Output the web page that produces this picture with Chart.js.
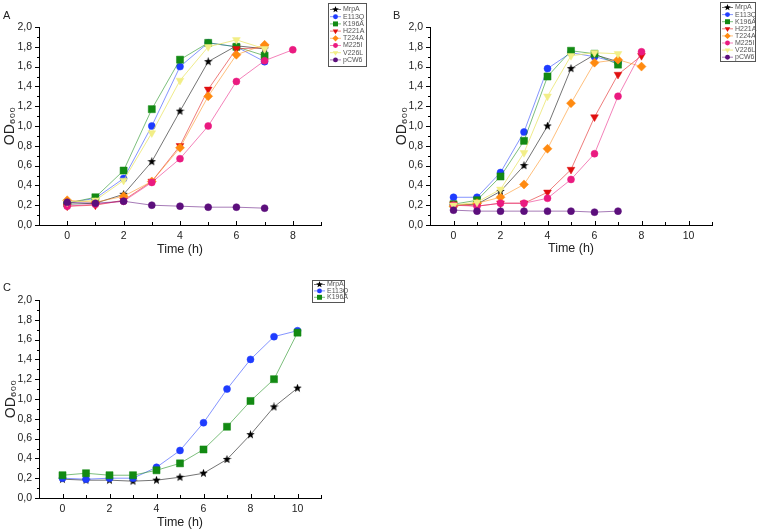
<!DOCTYPE html>
<html>
<head>
<meta charset="utf-8">
<script src="https://cdn.jsdelivr.net/npm/chart.js@4.4.0/dist/chart.umd.min.js"></script>
<style>
  body { margin: 0; width: 759px; height: 531px; background: #fff; position: relative; overflow: hidden; font-family: "Liberation Sans", Arial, sans-serif; }
  .panel { position: absolute; }
  .tag { position: absolute; font-size: 11px; color: #222; }
</style>
</head>
<body>
<div class="panel" style="left:0;top:0"><canvas id="chartA" width="380" height="265"></canvas></div>
<div class="panel" style="left:380px;top:0"><canvas id="chartB" width="379" height="265"></canvas></div>
<div class="panel" style="left:0;top:265px"><canvas id="chartC" width="380" height="266"></canvas></div>
<div class="tag" style="left:3px;top:9px">A</div>
<div class="tag" style="left:393px;top:9px">B</div>
<div class="tag" style="left:3px;top:281px">C</div>

<script>
// strains and how they look
var strains = ["MrpA", "E113Q", "K196A", "H221A", "T224A", "M225I", "V226L", "pCW6"];
var colors = ["#000000", "#1f3cff", "#138a13", "#e01010", "#ff8a10", "#ea1a80", "#f2ee86", "#5c0f7c"];
var lineColors = ["rgba(0,0,0,0.55)", "rgba(31,60,255,0.55)", "rgba(19,138,19,0.55)", "rgba(224,16,16,0.55)",
  "rgba(255,138,16,0.55)", "rgba(234,26,128,0.55)", "rgba(235,230,110,0.8)", "rgba(92,15,124,0.55)"];

// time points (h)
var hoursA = [0, 1, 2, 3, 4, 5, 6, 7, 8];
var hoursB = [0, 1, 2, 3, 4, 5, 6, 7, 8];
var hoursC = [0, 1, 2, 3, 4, 5, 6, 7, 8, 9, 10];

// panel A, OD600
var odA = [
  [0.21, 0.22, 0.31, 0.64, 1.15, 1.65, 1.81, 1.78],        // MrpA
  [0.22, 0.27, 0.47, 1.00, 1.60, 1.84, 1.80, 1.65],        // E113Q
  [0.22, 0.28, 0.55, 1.17, 1.67, 1.84, 1.80, 1.71],        // K196A
  [0.19, 0.20, 0.25, 0.44, 0.80, 1.37, 1.78, 1.79],        // H221A
  [0.25, 0.23, 0.29, 0.44, 0.78, 1.30, 1.72, 1.82],        // T224A
  [0.19, 0.21, 0.24, 0.43, 0.67, 1.00, 1.45, 1.66, 1.77],  // M225I
  [0.23, 0.25, 0.45, 0.93, 1.46, 1.80, 1.87, 1.78],        // V226L
  [0.23, 0.22, 0.24, 0.20, 0.19, 0.18, 0.18, 0.17]         // pCW6
];

// panel B, OD600
var odB = [
  [0.20, 0.21, 0.34, 0.60, 1.00, 1.58, 1.72, 1.65],
  [0.28, 0.28, 0.53, 0.94, 1.58, 1.74, 1.70, 1.64],
  [0.21, 0.25, 0.49, 0.85, 1.50, 1.76, 1.73, 1.62],
  [0.21, 0.19, 0.22, 0.22, 0.33, 0.56, 1.09, 1.52, 1.71],
  [0.19, 0.22, 0.28, 0.41, 0.77, 1.23, 1.64, 1.67, 1.60],
  [0.20, 0.19, 0.22, 0.22, 0.27, 0.46, 0.72, 1.30, 1.75],
  [0.20, 0.23, 0.36, 0.73, 1.30, 1.71, 1.74, 1.73],
  [0.15, 0.14, 0.14, 0.14, 0.14, 0.14, 0.13, 0.14]
];

// panel C, OD600 (first three strains only)
var odC = [
  [0.19, 0.18, 0.18, 0.17, 0.18, 0.21, 0.25, 0.39, 0.64, 0.92, 1.11],
  [0.20, 0.19, 0.20, 0.20, 0.31, 0.48, 0.76, 1.10, 1.40, 1.63, 1.69],
  [0.23, 0.25, 0.23, 0.23, 0.28, 0.35, 0.49, 0.72, 0.98, 1.20, 1.67]
];

var yTickLabels = ["0,0", "0,2", "0,4", "0,6", "0,8", "1,0", "1,2", "1,4", "1,6", "1,8", "2,0"];

Chart.defaults.font.family = '"Liberation Sans", Arial, sans-serif';

function starImage(size) {
  var c = document.createElement("canvas");
  c.width = size; c.height = size;
  var g = c.getContext("2d");
  var r = size / 2, ri = r * 0.42;
  g.beginPath();
  for (var i = 0; i < 10; i++) {
    var a = -Math.PI / 2 + i * Math.PI / 5;
    var rr = i % 2 === 0 ? r : ri;
    g.lineTo(r + rr * Math.cos(a), r + rr * Math.sin(a));
  }
  g.closePath();
  g.fillStyle = "#000";
  g.fill();
  return c;
}
var star = starImage(9);
var starSmall = starImage(7);

var markers = [
  { style: star, small: starSmall, r: 4.5, rot: 0 },
  { style: "circle", r: 3.5, rot: 0 },
  { style: "rect", r: 5, rot: 0 },
  { style: "triangle", r: 4.5, rot: 180 },
  { style: "rectRot", r: 4.5, rot: 0 },
  { style: "circle", r: 3.5, rot: 0 },
  { style: "triangle", r: 4.5, rot: 180 },
  { style: "circle", r: 3.5, rot: 0 }
];

function makeDatasets(hours, rows) {
  return rows.map(function (vals, i) {
    return {
      label: strains[i],
      data: vals.map(function (v, k) { return { x: hours[k], y: v }; }),
      borderColor: lineColors[i],
      backgroundColor: colors[i],
      pointBorderColor: colors[i],
      borderWidth: 1,
      pointStyle: markers[i].style,
      pointRotation: markers[i].rot,
      pointRadius: markers[i].r,
      pointBorderWidth: 0.5,
      order: -i
    };
  });
}

// little legend box drawn inside the canvas
var legendBox = {
  id: "legendBox",
  afterDraw: function (chart, args, o) {
    var ctx = chart.ctx;
    ctx.save();
    ctx.strokeStyle = "#555";
    ctx.lineWidth = 1;
    ctx.strokeRect(o.x + 0.5, o.y + 0.5, o.w, o.h);
    ctx.font = '7px "Liberation Sans", Arial, sans-serif';
    ctx.textBaseline = "middle";
    chart.data.datasets.forEach(function (ds, i) {
      var cy = o.first + i * o.step;
      ctx.strokeStyle = ds.borderColor;
      ctx.fillStyle = ds.backgroundColor;
      ctx.beginPath();
      ctx.moveTo(o.x + 2, cy);
      ctx.lineTo(o.x + 13, cy);
      ctx.stroke();
      var m = markers[i];
      Chart.helpers.drawPoint(ctx, {
        pointStyle: m.small || m.style,
        rotation: m.rot,
        radius: m.r * 0.7,
        borderWidth: 0
      }, o.x + 7.5, cy);
      ctx.fillStyle = "#555";
      ctx.fillText(ds.label, o.x + 15, cy);
    });
    ctx.restore();
  }
};

// Origin style ticks: y out (major 0.2, minor 0.1), x in (every hour)
var axisTicks = {
  id: "axisTicks",
  afterDraw: function (chart) {
    var ctx = chart.ctx, xs = chart.scales.x, ys = chart.scales.y;
    var left = chart.chartArea.left, bottom = chart.chartArea.bottom;
    ctx.save();
    ctx.strokeStyle = "#000";
    ctx.lineWidth = 1;
    ctx.beginPath();
    for (var k = 0; k <= 20; k++) {
      var py = Math.round(ys.getPixelForValue(k / 10)) + 0.5;
      var len = k % 2 === 0 ? 4 : 2;
      ctx.moveTo(left - len, py);
      ctx.lineTo(left, py);
    }
    for (var v = xs.min; v <= xs.max; v++) {
      var px = Math.round(xs.getPixelForValue(v)) + 0.5;
      var len2 = v % 2 === 0 ? 4 : 3;
      ctx.moveTo(px, bottom);
      ctx.lineTo(px, bottom - len2);
    }
    ctx.stroke();
    ctx.restore();
  }
};

function makeOptions(xMax, lay, legend) {
  return {
    responsive: false,
    animation: false,
    layout: { padding: { left: 0, top: lay.top, right: lay.right, bottom: 0 } },
    plugins: {
      legend: { display: false },
      tooltip: { enabled: false },
      legendBox: legend
    },
    scales: {
      x: {
        type: "linear",
        min: -1,
        max: xMax,
        afterFit: function (s) { s.height = lay.xh; },
        grid: { display: false, drawTicks: false },
        border: { display: true, color: "#000", width: 1 },
        ticks: {
          stepSize: 1,
          autoSkip: false,
          maxRotation: 0,
          padding: 5,
          color: "#222",
          font: { size: 10.5 },
          callback: function (v) { return v >= 0 && v % 2 === 0 ? String(v) : ""; }
        },
        title: { display: true, text: "Time (h)", color: "#222", font: { size: 12.5 }, padding: { top: 0, bottom: lay.xtb } }
      },
      y: {
        min: 0,
        max: 2,
        afterFit: function (s) { s.width = lay.yw; },
        grid: { display: false, drawTicks: false },
        border: { display: true, color: "#000", width: 1 },
        ticks: {
          stepSize: 0.2,
          padding: 7,
          color: "#222",
          font: { size: 10.5 },
          callback: function (v) { return yTickLabels[Math.round(v * 5)]; }
        },
        title: { display: true, text: "OD₆₀₀", color: "#222", font: { size: 14 }, padding: { top: lay.ytp, bottom: 0 } }
      }
    }
  };
}

new Chart(document.getElementById("chartA"), {
  type: "line",
  data: { datasets: makeDatasets(hoursA, odA) },
  options: makeOptions(9, { top: 27, right: 59, xh: 40, yw: 39, xtb: 8, ytp: 2 },
    { x: 328, y: 3, w: 38, h: 63, first: 9.5, step: 7.2 }),
  plugins: [axisTicks, legendBox]
});

new Chart(document.getElementById("chartB"), {
  type: "line",
  data: { datasets: makeDatasets(hoursB, odB) },
  options: makeOptions(11, { top: 27, right: 47, xh: 40, yw: 50, xtb: 9, ytp: 14 },
    { x: 340, y: 2, w: 35, h: 59, first: 7.5, step: 7.1 }),
  plugins: [axisTicks, legendBox]
});

new Chart(document.getElementById("chartC"), {
  type: "line",
  data: { datasets: makeDatasets(hoursC, odC) },
  options: makeOptions(11, { top: 35, right: 59, xh: 33, yw: 39, xtb: 1, ytp: 3 },
    { x: 312, y: 15, w: 32, h: 22, first: 19.5, step: 6.4 }),
  plugins: [axisTicks, legendBox]
});
</script>
</body>
</html>
